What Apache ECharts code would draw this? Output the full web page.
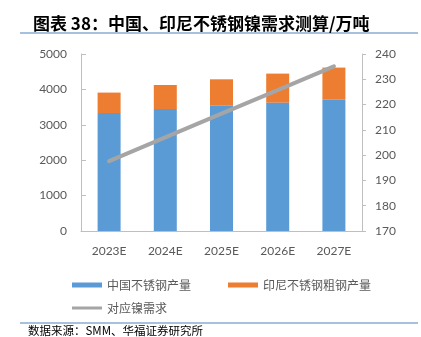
<!DOCTYPE html>
<html>
<head>
<meta charset="utf-8">
<script src="https://cdn.jsdelivr.net/npm/echarts@6/dist/echarts.min.js"></script>
<style>
  html, body { margin: 0; padding: 0; background: #fff; }
  #chart { width: 421px; height: 337px; }
</style>
</head>
<body>
<div id="chart"></div>
<script>
// Stainless steel output (万吨) and the resulting nickel demand
const categories = ['2023E', '2024E', '2025E', '2026E', '2027E'];
const chinaOutput = [3333, 3446, 3542, 3627, 3712];
const indonesiaOutput = [577, 678, 743, 819, 904];
const nickelDemand = [197.6, 207.0, 216.4, 225.7, 235.1];
const leftTicks = { min: 0, max: 5000, interval: 1000 };
const rightTicks = { min: 170, max: 240, interval: 10 };

const seriesNames = ['中国不锈钢产量', '印尼不锈钢粗钢产量', '对应镍需求'];
const colors = ['#5B9BD5', '#ED7D31', '#A5A5A5'];
const axisFont = 'Lato, "Noto Sans", sans-serif';
const cjkFont = '"Noto Sans CJK SC", sans-serif';

const chart = echarts.init(document.getElementById('chart'));

const legendBase = {
  orient: 'horizontal',
  icon: 'rect',
  itemWidth: 30,
  itemGap: 5,
  textStyle: { color: '#595959', fontSize: 12, fontFamily: cjkFont }
};

chart.setOption({
  animation: false,
  color: colors,
  title: {
    text: '图表 38：中国、印尼不锈钢镍需求测算/万吨',
    left: 28,
    top: 10,
    textStyle: { fontSize: 17, fontWeight: 'bold', color: '#000', fontFamily: cjkFont }
  },
  graphic: [
    { type: 'line', shape: { x1: 20, y1: 33, x2: 418, y2: 33 }, style: { stroke: '#4F81BD', lineWidth: 1 } },
    { type: 'line', shape: { x1: 20, y1: 323, x2: 418, y2: 323 }, style: { stroke: '#4F81BD', lineWidth: 1 } },
    { type: 'text', left: 28, top: 325, style: { text: '数据来源：SMM、华福证券研究所', fill: '#000', fontSize: 11.5, fontFamily: cjkFont } }
  ],
  legend: [
    Object.assign({}, legendBase, { data: [seriesNames[0]], left: 67, top: 274, itemHeight: 5 }),
    Object.assign({}, legendBase, { data: [seriesNames[1]], left: 223, top: 274, itemHeight: 5 }),
    Object.assign({}, legendBase, { data: [seriesNames[2]], left: 67, top: 297, itemHeight: 3 })
  ],
  grid: { left: 81, right: 59, top: 54, bottom: 106, containLabel: false },
  xAxis: {
    type: 'category',
    data: categories,
    axisLine: { lineStyle: { color: '#BFBFBF', width: 1 } },
    axisTick: { show: false },
    axisLabel: { color: '#595959', fontSize: 12, fontFamily: axisFont, margin: 14 }
  },
  yAxis: [
    {
      type: 'value',
      min: leftTicks.min, max: leftTicks.max, interval: leftTicks.interval,
      axisLine: { show: true, lineStyle: { color: '#BFBFBF', width: 1 } },
      axisTick: { show: true, inside: true, length: 5, lineStyle: { color: '#BFBFBF' } },
      splitLine: { show: false },
      axisLabel: {
        color: '#595959', fontSize: 12, fontFamily: axisFont, margin: 14,
        formatter: (v) => String(v)
      }
    },
    {
      type: 'value',
      position: 'right',
      min: rightTicks.min, max: rightTicks.max, interval: rightTicks.interval,
      axisLine: { show: true, lineStyle: { color: '#BFBFBF', width: 1 } },
      axisTick: { show: true, inside: false, length: 4, lineStyle: { color: '#BFBFBF' } },
      splitLine: { show: false },
      axisLabel: { color: '#595959', fontSize: 12, fontFamily: axisFont, margin: 13 }
    }
  ],
  series: [
    {
      name: seriesNames[0], type: 'bar', stack: 'output', barWidth: 23,
      itemStyle: { color: colors[0] }, data: chinaOutput
    },
    {
      name: seriesNames[1], type: 'bar', stack: 'output', barWidth: 23,
      itemStyle: { color: colors[1] }, data: indonesiaOutput
    },
    {
      name: seriesNames[2], type: 'line', yAxisIndex: 1,
      symbol: 'none',
      lineStyle: { color: colors[2], width: 4, cap: 'round' },
      itemStyle: { color: colors[2] },
      data: nickelDemand
    }
  ]
});
</script>
</body>
</html>
